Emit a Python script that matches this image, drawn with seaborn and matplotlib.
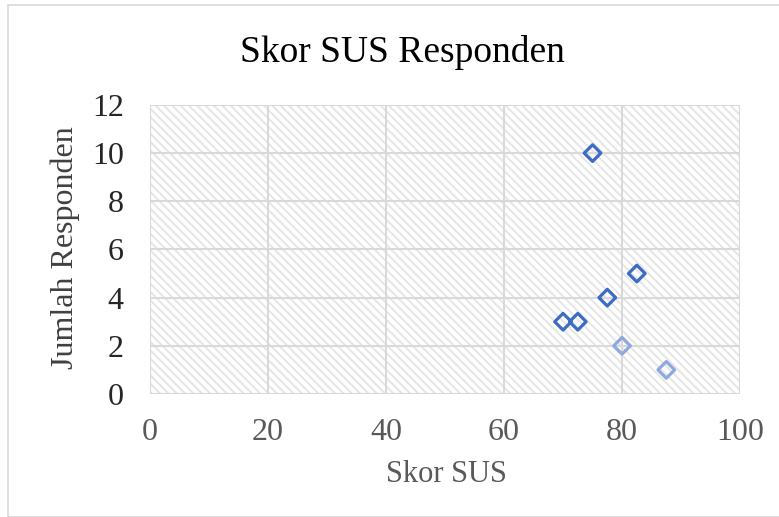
import matplotlib
matplotlib.use("Agg")
import matplotlib.pyplot as plt
from matplotlib.patches import Rectangle
import pandas as pd
import seaborn as sns

# data
skor_sus = [70, 72.5, 75, 77.5, 80, 82.5, 87.5]
jumlah_responden = [3, 3, 10, 4, 2, 5, 1]
shade = ["tua", "tua", "tua", "tua", "muda", "tua", "muda"]
x_ticks = [0, 20, 40, 60, 80, 100]
y_ticks = [0, 2, 4, 6, 8, 10, 12]

df = pd.DataFrame({"Skor SUS": skor_sus, "Jumlah Responden": jumlah_responden, "shade": shade})

sns.set_style("white")
plt.rcParams["font.family"] = ["Liberation Serif", "DejaVu Serif"]
plt.rcParams["hatch.linewidth"] = 1.4
plt.rcParams["hatch.color"] = "#e6e6e6"

fig = plt.figure(figsize=(7.79, 5.17), dpi=100)
ax = fig.add_axes([0.1926, 0.238, 0.7574, 0.559])

# chart outer border
fig.patches.append(Rectangle((8 / 779, 0), 1.0, 1 - 5 / 517, transform=fig.transFigure,
                             fill=False, edgecolor="#d9d9d9", linewidth=1.2, zorder=0))

# hatched plot area
ax.add_patch(Rectangle((0, 0), 1, 1, transform=ax.transAxes, facecolor="white",
                       edgecolor="#e6e6e6", hatch="\\\\\\\\", linewidth=0, zorder=0))

sns.scatterplot(data=df, x="Skor SUS", y="Jumlah Responden", hue="shade",
                palette={"tua": "#3d6cc4", "muda": "#8eaadc"}, marker="D",
                s=72, legend=False, ax=ax, zorder=3)
coll = ax.collections[-1]
coll.set_edgecolors(coll.get_facecolors())
coll.set_facecolor("none")
coll.set_linewidth(2.3)

ax.set_xlim(0, 100)
ax.set_ylim(0, 12)
ax.set_xticks(x_ticks)
ax.set_yticks(y_ticks)
ax.grid(True, color="#d9d9d9", linewidth=1.5, zorder=1)
ax.set_axisbelow(True)
for sp in ax.spines.values():
    sp.set_visible(False)
ax.tick_params(axis="x", length=0, labelsize=23, labelcolor="#595959", pad=17)
ax.tick_params(axis="y", length=0, labelsize=23, labelcolor="#262626", pad=19)
ax.set_xlabel("")
ax.set_ylabel("")
fig.text(446 / 779, 1 - 475 / 517, "Skor SUS", fontsize=22, color="#595959",
         ha="center", va="center")
fig.text(65 / 779, 1 - 248 / 517, "Jumlah Responden", fontsize=23, color="#404040",
         ha="center", va="center", rotation=90)
fig.text(402 / 779, 1 - 53 / 517, "Skor SUS Responden", fontsize=27, color="black",
         ha="center", va="center")

fig.savefig("out.png", dpi=100)
